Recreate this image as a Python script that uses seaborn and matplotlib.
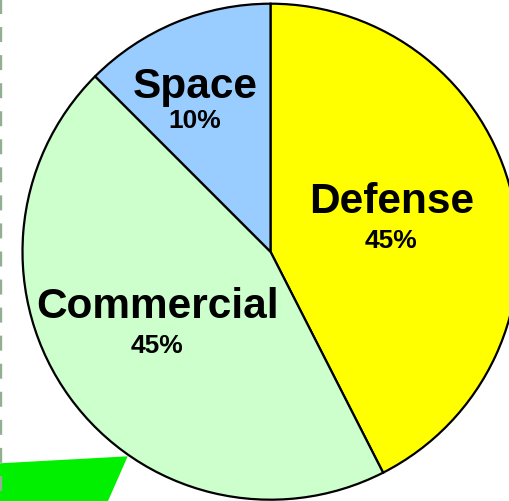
import matplotlib
matplotlib.use("Agg")
import matplotlib.pyplot as plt
import seaborn as sns

# Data
categories = ["Defense", "Commercial", "Space"]
slice_sizes = [42.5, 45.0, 12.5]          # angular share as drawn
pct_labels = ["45%", "45%", "10%"]         # labels as printed
colors = ["#FFFF00", "#CCFFCC", "#99CCFF"]

sns.set_theme(style="white")
plt.rcParams['font.family'] = ['Liberation Sans', 'DejaVu Sans']
plt.rcParams['lines.scale_dashes'] = False

W, H = 510, 502
fig = plt.figure(figsize=(W / 100, H / 100), dpi=100)
ax = fig.add_axes([0, 0, 1, 1])

cx, cy, r = 270.5, H - 252.7, 248

# decorative green shape bottom-left
ax.fill([0, 127.7, 108, 0], [H - 464.3, H - 457.3, 0, 0], color="#00F000", zorder=1, lw=0)

# dashed line at left edge
ax.plot([1.2, 1.2], [H + 10, -10], color="#93AF93", lw=1.7, dashes=(10.8, 9.4), zorder=1)

wedges, _ = ax.pie(slice_sizes, colors=colors, startangle=90, counterclock=False,
                   center=(cx, cy), radius=r,
                   wedgeprops=dict(edgecolor="black", linewidth=1.6), frame=True)
for w in wedges:
    w.set_zorder(2)

# label positions (pixels from top-left): name baseline, pct baseline
label_pos = {
    "Defense": (391.5, 213, 248),
    "Commercial": (157.5, 318, 353),
    "Space": (195, 98, 128),
}
for cat, pct in zip(categories, pct_labels):
    x, yb1, yb2 = label_pos[cat]
    ax.text(x, H - yb1, cat, ha="center", va="baseline", fontsize=30.5,
            fontweight="bold", color="black", zorder=3)
    ax.text(x, H - yb2, pct, ha="center", va="baseline", fontsize=19,
            fontweight="bold", color="black", zorder=3)

ax.set_xlim(0, W)
ax.set_ylim(0, H)
ax.set_aspect("auto")
ax.axis("off")
fig.savefig("out.png", dpi=100, facecolor="white")
